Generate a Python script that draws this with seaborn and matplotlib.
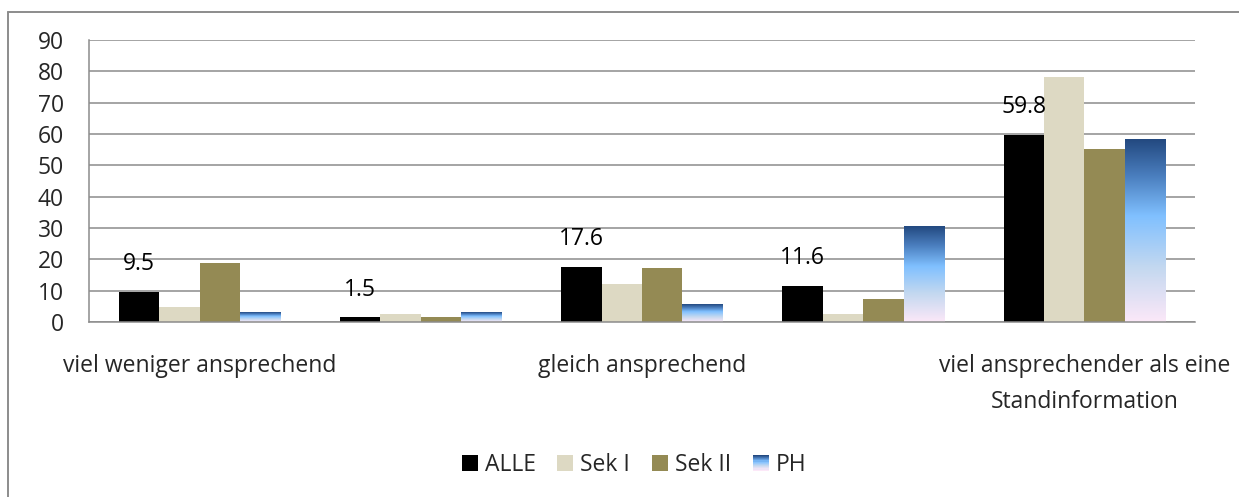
import numpy as np
import pandas as pd
import matplotlib
matplotlib.use('Agg')
import matplotlib.pyplot as plt
import seaborn as sns
from matplotlib.colors import LinearSegmentedColormap
from matplotlib.patches import Rectangle
from matplotlib.lines import Line2D
from matplotlib.legend_handler import HandlerBase

# Daten
kategorien = ['viel weniger ansprechend', '', 'gleich ansprechend', '',
              'viel ansprechender als eine\nStandinformation']
gruppen = ['ALLE', 'Sek I', 'Sek II', 'PH']
alle = [9.5, 1.5, 17.6, 11.6, 59.8]
sek1 = [4.9, 2.4, 12.0, 2.4, 78.3]
sek2 = [18.9, 1.5, 17.3, 7.2, 55.1]
ph = [3.0, 3.0, 5.7, 30.6, 58.4]

farben = {'ALLE': '#000000', 'Sek I': '#DDD9C3', 'Sek II': '#948A54', 'PH': '#7DBFFF'}
ph_cmap = LinearSegmentedColormap.from_list(
    'ph', [(0.0, '#234980'), (0.2, '#4A7EBE'), (0.42, '#80C0FF'),
           (0.7, '#C3D8F0'), (1.0, '#FCE8F8')])

keys = [f'k{i}' for i in range(len(kategorien))]
rows = []
for name, werte in zip(gruppen, [alle, sek1, sek2, ph]):
    for k, v in zip(keys, werte):
        rows.append({'Kategorie': k, 'Gruppe': name, 'Wert': v})
df = pd.DataFrame(rows)

sns.set_style('white')
plt.rcParams['font.family'] = ['Open Sans', 'DejaVu Sans']
grau = '#8C8C8C'
fs = 16.5

fig = plt.figure(figsize=(12.39, 4.97), dpi=100)
ax = fig.add_axes([89 / 1239, 1 - 322 / 497, (1195 - 89) / 1239, (322 - 40) / 497])

sns.barplot(data=df, x='Kategorie', y='Wert', hue='Gruppe', order=keys,
            hue_order=gruppen, palette=farben, width=0.73, linewidth=0,
            saturation=1, ax=ax, legend=False)

# Farbverlauf fuer PH
grad = np.linspace(0, 1, 256).reshape(-1, 1)
for bar in ax.containers[3]:
    x, w, h = bar.get_x(), bar.get_width(), bar.get_height()
    bar.set_facecolor('none')
    ax.imshow(grad, extent=[x, x + w, 0, h], cmap=ph_cmap, aspect='auto',
              origin='upper', zorder=bar.get_zorder(), interpolation='bilinear')

# Werte fuer ALLE
for bar, v in zip(ax.containers[0], alle):
    ax.annotate(f'{v:.1f}', (bar.get_x() + bar.get_width() / 2, bar.get_height()),
                xytext=(0, 20), textcoords='offset points', ha='center', va='center',
                fontsize=fs, color='black')

ax.set_xlim(-0.5, 4.5)
ax.set_ylim(0, 90)
ax.set_yticks(range(0, 91, 10))
ax.yaxis.grid(True, color=grau, linewidth=1.1)
ax.set_axisbelow(True)
for s in ['top', 'right']:
    ax.spines[s].set_visible(False)
for s in ['left', 'bottom']:
    ax.spines[s].set_color(grau)
    ax.spines[s].set_linewidth(1.1)

ax.set_xticks(range(5))
ax.set_xticklabels(kategorien)
ax.set_xticks(np.arange(-0.5, 5, 1), minor=True)
ax.tick_params(axis='x', which='major', length=0, pad=23, labelsize=fs)
ax.tick_params(axis='x', which='minor', length=6, width=1.1, color=grau, direction='out')
ax.tick_params(axis='y', length=6, width=1.1, color=grau, direction='out', pad=12, labelsize=fs)
for t in ax.get_xticklabels():
    t.set_linespacing(1.65)
    t.set_va('top')
ax.set_xlabel('')
ax.set_ylabel('')


class GradientHandler(HandlerBase):
    def create_artists(self, legend, orig_handle, xdescent, ydescent, width, height, fontsize, trans):
        n = 14
        arts = []
        for i in range(n):
            r = Rectangle((-xdescent, -ydescent + height * (n - 1 - i) / n), width, height / n + 0.2,
                          facecolor=ph_cmap(i / (n - 1)), edgecolor='none', transform=trans)
            arts.append(r)
        return arts


handles = [Rectangle((0, 0), 1, 1, facecolor=farben[g], edgecolor='none') for g in gruppen]
fig.legend(handles, gruppen, loc='center', bbox_to_anchor=(634 / 1239, 1 - 465 / 497),
           ncol=4, frameon=False, fontsize=fs, handlelength=0.7, handleheight=0.7,
           handletextpad=0.3, columnspacing=0.95,
           handler_map={handles[3]: GradientHandler()})

# Rahmen
fig.add_artist(Line2D([8 / 1239, 8 / 1239], [0, 1 - 12 / 497], transform=fig.transFigure,
                      color=grau, linewidth=1.4))
fig.add_artist(Line2D([8 / 1239, 1], [1 - 12 / 497, 1 - 12 / 497], transform=fig.transFigure,
                      color=grau, linewidth=1.4))

fig.savefig('out.png', dpi=100)
